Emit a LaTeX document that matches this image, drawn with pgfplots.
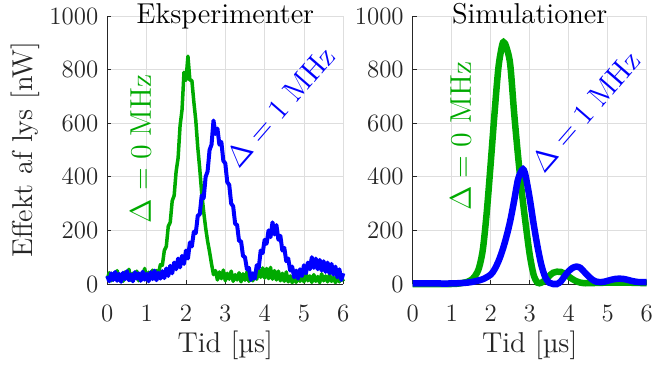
\RequirePackage{fix-cm}
\documentclass[border=0pt]{standalone}
\usepackage{pgfplots}
\pgfplotsset{compat=1.18}
\definecolor{mgreen}{RGB}{0,170,0}
\definecolor{mblue}{RGB}{0,0,255}
\definecolor{axgray}{gray}{0.15}
\pgfplotsset{myax/.style={
  scale only axis, height=134bp,
  xmin=0, xmax=6, ymin=0, ymax=1000,
  xtick={0,1,...,6}, ytick={0,200,...,1000},
  axis x line*=bottom, axis y line*=left,
  axis line style={axgray, line width=0.4bp},
  grid=major, major grid style={black!13, line width=0.4bp},
  tick align=inside, major tick length=2bp,
  tick style={axgray, line width=0.4bp},
  ticklabel style={font=\fontsize{12.5}{14}\selectfont, text=axgray},
  /pgf/number format/assume math mode=true,
  /pgf/number format/1000 sep={},
  xticklabel style={yshift=-7bp},
  yticklabel style={xshift=-1bp},
  title style={at={(axis description cs:0.5,0.9265)}, anchor=base, font=\fontsize{14.4}{16}\selectfont},
  xlabel style={at={(axis description cs:0.5,-0.254)}, anchor=base, font=\fontsize{14.4}{16}\selectfont, text=axgray},
  ylabel style={at={(axis description cs:-0.316,0.5)}, anchor=base, rotate=0, font=\fontsize{14.4}{16}\selectfont, text=axgray},
  clip=false,
}}
\begin{document}
\begin{tikzpicture}
\begin{axis}[myax, width=118bp, at={(0bp,0bp)}, anchor=south west,
  title={Eksperimenter}, xlabel={Tid [µs]}, ylabel={Effekt af lys [nW]}]
\addplot[mgreen, line width=1.75bp, line join=round] coordinates {
(0.00,20)(0.05,42)(0.10,12)(0.15,38)(0.20,18)(0.25,50)(0.30,15)(0.35,35)(0.40,10)(0.45,45)
(0.50,22)(0.55,55)(0.60,14)(0.65,40)(0.70,20)(0.75,48)(0.80,12)(0.85,36)(0.90,24)(0.95,58)
(1.00,16)(1.05,44)(1.10,20)(1.15,52)(1.20,24)(1.25,50)(1.30,38)(1.35,72)(1.40,70)(1.45,125)
(1.50,140)(1.55,215)(1.60,230)(1.65,310)(1.70,330)(1.75,420)(1.80,470)(1.85,590)(1.90,650)(1.95,790)
(2.00,760)(2.05,850)(2.10,760)(2.15,760)(2.20,680)(2.25,610)(2.30,510)(2.35,430)(2.40,340)(2.45,270)
(2.50,210)(2.55,160)(2.60,120)(2.65,75)(2.70,35)(2.75,50)(2.80,15)(2.85,45)(2.90,20)(2.95,52)
(3.00,12)(3.05,40)(3.10,18)(3.15,48)(3.20,10)(3.25,35)(3.30,15)(3.35,42)(3.40,8)(3.45,38)
(3.50,14)(3.55,45)(3.60,10)(3.65,30)(3.70,12)(3.75,40)(3.80,18)(3.85,55)(3.90,25)(3.95,60)
(4.00,22)(4.05,58)(4.10,20)(4.15,62)(4.20,18)(4.25,50)(4.30,15)(4.35,48)(4.40,12)(4.45,40)
(4.50,10)(4.55,45)(4.60,8)(4.65,30)(4.70,5)(4.75,28)(4.80,6)(4.85,35)(4.90,10)(4.95,30)
(5.00,8)(5.05,42)(5.10,12)(5.15,30)(5.20,6)(5.25,35)(5.30,10)(5.35,28)(5.40,5)(5.45,38)
(5.50,12)(5.55,30)(5.60,8)(5.65,35)(5.70,10)(5.75,25)(5.80,5)(5.85,32)(5.90,8)(5.95,28)
(6.00,10)};
\addplot[mblue, line width=2bp, line join=round] coordinates {
(0.00,30)(0.05,10)(0.10,40)(0.15,15)(0.20,45)(0.25,12)(0.30,38)(0.35,8)(0.40,42)(0.45,18)
(0.50,48)(0.55,14)(0.60,36)(0.65,10)(0.70,44)(0.75,20)(0.80,40)(0.85,12)(0.90,46)(0.95,16)
(1.00,38)(1.05,10)(1.10,44)(1.15,18)(1.20,50)(1.25,14)(1.30,42)(1.35,20)(1.40,48)(1.45,22)
(1.50,58)(1.55,30)(1.60,68)(1.65,40)(1.70,80)(1.75,55)(1.80,95)(1.85,62)(1.90,105)(1.95,75)
(2.00,125)(2.05,95)(2.10,155)(2.15,140)(2.20,195)(2.25,190)(2.30,255)(2.35,260)(2.40,330)(2.45,320)
(2.50,400)(2.55,420)(2.60,500)(2.65,520)(2.70,610)(2.75,560)(2.80,580)(2.85,520)(2.90,530)(2.95,460)
(3.00,450)(3.05,380)(3.10,370)(3.15,300)(3.20,290)(3.25,225)(3.30,220)(3.35,160)(3.40,160)(3.45,105)
(3.50,100)(3.55,55)(3.60,60)(3.65,15)(3.70,40)(3.75,20)(3.80,70)(3.85,60)(3.90,125)(3.95,115)
(4.00,165)(4.05,150)(4.10,200)(4.15,175)(4.20,230)(4.25,185)(4.30,220)(4.35,165)(4.40,180)(4.45,125)
(4.50,135)(4.55,85)(4.60,95)(4.65,50)(4.70,65)(4.75,25)(4.80,50)(4.85,20)(4.90,55)(4.95,30)
(5.00,70)(5.05,40)(5.10,80)(5.15,55)(5.20,100)(5.25,60)(5.30,95)(5.35,55)(5.40,90)(5.45,50)
(5.50,85)(5.55,45)(5.60,80)(5.65,40)(5.70,75)(5.75,35)(5.80,65)(5.85,25)(5.90,55)(5.95,15)
(6.00,40)};
\node[rotate=90, anchor=base west, text=mgreen, font=\fontsize{15}{17}\selectfont, inner sep=0pt] at (axis cs:1.11,224) {$\Delta = 0\ \mathrm{MHz}$};
\node[rotate=49, anchor=base west, text=mblue, font=\fontsize{15}{17}\selectfont, inner sep=0pt] at (axis cs:3.34,425) {$\Delta = 1\ \mathrm{MHz}$};
\end{axis}
\begin{axis}[myax, width=117bp, at={(152.7bp,0bp)}, anchor=south west,
  title={Simulationer}, xlabel={Tid [µs]}]
\addplot[mgreen, line width=3.25bp, smooth] coordinates {
(0,0)(0.5,0)(1.0,0)(1.2,2)(1.4,8)(1.5,15)(1.6,30)(1.7,60)(1.8,130)(1.9,270)
(2.0,450)(2.1,640)(2.2,810)(2.3,895)(2.35,900)(2.4,885)(2.5,820)(2.6,640)(2.7,480)(2.8,340)
(2.9,220)(3.0,110)(3.1,35)(3.2,5)(3.3,5)(3.4,15)(3.5,30)(3.6,42)(3.7,46)(3.8,45)
(3.9,38)(4.0,28)(4.1,18)(4.2,10)(4.3,5)(4.4,3)(4.5,3)(5.0,5)(5.5,5)(6.0,3)};
\addplot[mblue, line width=3.25bp, smooth] coordinates {
(0,2)(0.5,2)(1.0,2)(1.4,5)(1.6,10)(1.8,18)(2.0,35)(2.1,55)(2.2,85)(2.3,125)
(2.4,175)(2.5,235)(2.6,310)(2.7,390)(2.8,425)(2.85,425)(2.9,400)(3.0,320)(3.1,225)(3.2,140)
(3.3,70)(3.4,25)(3.5,5)(3.6,0)(3.7,0)(3.8,10)(3.9,30)(4.0,48)(4.1,60)(4.2,65)
(4.3,60)(4.4,45)(4.5,30)(4.6,17)(4.7,9)(4.8,7)(4.9,8)(5.0,12)(5.1,16)(5.2,19)
(5.3,20)(5.4,19)(5.5,16)(5.6,12)(5.7,9)(5.8,7)(5.9,7)(6.0,7)};
\node[rotate=90, anchor=base west, text=mgreen, font=\fontsize{15}{17}\selectfont, inner sep=0pt] at (axis cs:1.49,272) {$\Delta = 0\ \mathrm{MHz}$};
\node[rotate=49, anchor=base west, text=mblue, font=\fontsize{15}{17}\selectfont, inner sep=0pt] at (axis cs:3.36,407) {$\Delta = 1\ \mathrm{MHz}$};
\end{axis}
\pgfresetboundingbox
\path[use as bounding box] (-53.65bp,-41bp) rectangle (273.35bp,142bp);
\end{tikzpicture}
\end{document}
